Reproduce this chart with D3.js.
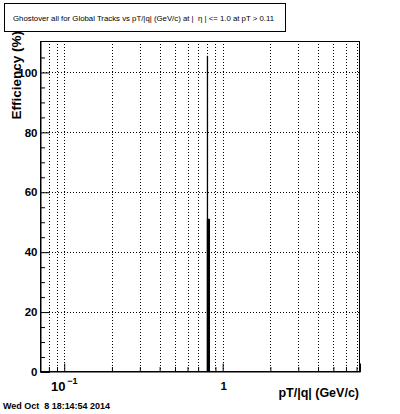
<!DOCTYPE html>
<html>
<head>
<meta charset="utf-8">
<script src="https://cdn.jsdelivr.net/npm/d3@7"></script>
<style>
  body { margin: 0; background: #fff; }
  svg { display: block; font-family: "Liberation Sans", Arial, sans-serif; }
  text { white-space: pre; }
</style>
</head>
<body>
<svg class="chart"></svg>
<script>
var titleText = "Ghostover all for Global Tracks vs pT/|q| (GeV/c) at |  \u03b7 | <= 1.0 at pT > 0.11";
var dateText = "Wed Oct  8 18:14:54 2014";

// histogram bins (edges in GeV/c, efficiency in %)
var binEdges = [0.80, 0.8035, 0.826];
var binValues = [105.5, 51];

var yMajor = [0, 20, 40, 60, 80, 100];
var yMinor = [5, 10, 15, 25, 30, 35, 45, 50, 55, 65, 70, 75, 85, 90, 95, 105];
var xMajor = [0.1, 1];
var xMinor = [0.08, 0.09, 0.2, 0.3, 0.4, 0.5, 0.6, 0.7, 0.8, 0.9, 2, 3, 4, 5, 6, 7];

var svg = d3.select(".chart")
    .attr("width", 400)
    .attr("height", 414);

var x = d3.scaleLog().domain([0.0703, 7.36]).range([40, 360]);
var y = d3.scaleLinear().domain([0, 110.5]).range([372, 41]);

// title box
svg.append("rect")
  .attr("x", 4.5).attr("y", 3.5)
  .attr("width", 281).attr("height", 28)
  .attr("fill", "#fff").attr("stroke", "#000");

svg.append("text")
  .attr("x", 13).attr("y", 20.5)
  .attr("font-size", "7.2px")
  .attr("textLength", 261)
  .attr("lengthAdjust", "spacingAndGlyphs")
  .text(titleText);

// grid
var grid = svg.append("g")
  .attr("stroke", "#000")
  .attr("stroke-width", 1)
  .attr("stroke-dasharray", "1,2");

grid.selectAll(".vgrid").data(xMajor.concat(xMinor))
  .enter().append("line")
    .attr("class", "vgrid")
    .attr("x1", function(d) { return Math.round(x(d)) + 0.5; })
    .attr("x2", function(d) { return Math.round(x(d)) + 0.5; })
    .attr("y1", y.range()[1])
    .attr("y2", y.range()[0]);

grid.selectAll(".hgrid").data(yMajor.slice(1))
  .enter().append("line")
    .attr("class", "hgrid")
    .attr("x1", x.range()[0])
    .attr("x2", x.range()[1])
    .attr("y1", function(d) { return Math.round(y(d)) + 0.5; })
    .attr("y2", function(d) { return Math.round(y(d)) + 0.5; });

// histogram outline
var pts = [[binEdges[0], 0]];
binValues.forEach(function(v, i) {
  pts.push([binEdges[i], v]);
  pts.push([binEdges[i + 1], v]);
});
pts.push([binEdges[binEdges.length - 1], 0]);

svg.append("path")
  .attr("d", d3.line()
    .x(function(d) { return x(d[0]); })
    .y(function(d) { return y(d[1]); })(pts))
  .attr("fill", "none")
  .attr("stroke", "#000")
  .attr("stroke-width", 1);

// the lower bin merges into a solid bar
svg.append("rect")
  .attr("x", x(binEdges[0]) - 0.5)
  .attr("y", y(binValues[1]))
  .attr("width", x(binEdges[2]) - x(binEdges[0]) + 1)
  .attr("height", y(0) - y(binValues[1]))
  .attr("fill", "#000");

// frame
svg.append("rect")
  .attr("x", 40.5).attr("y", 41.5)
  .attr("width", 319).attr("height", 330)
  .attr("fill", "none").attr("stroke", "#000");

// y axis
var yAxisMajor = d3.axisLeft(y).tickValues(yMajor).tickSize(-9).tickPadding(3);
var yAxisMinor = d3.axisLeft(y).tickValues(yMinor).tickSize(-4.5).tickFormat("");

svg.append("g").attr("transform", "translate(40.5,0)").call(yAxisMinor)
  .call(function(g) { g.select(".domain").remove(); });
var gy = svg.append("g").attr("transform", "translate(40.5,0)").call(yAxisMajor);
gy.select(".domain").attr("stroke", "#000");
gy.selectAll("text")
  .attr("font-family", "Liberation Sans, Arial, sans-serif")
  .attr("font-size", "11.5px")
  .attr("font-weight", "bold")
  .attr("fill", "#000");

// x axis
var xAxisMajor = d3.axisBottom(x).tickValues(xMajor).tickSize(-8).tickFormat("");
var xAxisMinor = d3.axisBottom(x).tickValues(xMinor).tickSize(-4.5).tickFormat("");

svg.append("g").attr("transform", "translate(0,371.5)").call(xAxisMinor)
  .call(function(g) { g.select(".domain").remove(); });
var gx = svg.append("g").attr("transform", "translate(0,371.5)").call(xAxisMajor);
gx.select(".domain").attr("stroke", "#000");

// x tick labels (ROOT style)
var xl = svg.append("g")
  .attr("font-weight", "bold")
  .attr("fill", "#000");
xl.append("text")
  .attr("x", x(0.1) - 6).attr("y", 391)
  .attr("text-anchor", "middle")
  .attr("font-size", "13px")
  .text("10");
xl.append("text")
  .attr("x", x(0.1) + 3).attr("y", 384)
  .attr("font-size", "9px")
  .text("\u22121");
xl.append("text")
  .attr("x", x(1) + 1).attr("y", 390)
  .attr("text-anchor", "middle")
  .attr("font-size", "11.5px")
  .text("1");

// axis titles
svg.append("text")
  .attr("x", 359).attr("y", 397)
  .attr("text-anchor", "end")
  .attr("font-size", "12.5px")
  .attr("font-weight", "bold")
  .text("pT/|q| (GeV/c)");

svg.append("text")
  .attr("transform", "translate(21,31) rotate(-90)")
  .attr("text-anchor", "end")
  .attr("font-size", "13.5px")
  .attr("font-weight", "bold")
  .text("Efficiency (%)");

// date stamp
svg.append("text")
  .attr("x", 3).attr("y", 409)
  .attr("font-size", "8.6px")
  .attr("font-weight", "bold")
  .attr("textLength", 107)
  .attr("lengthAdjust", "spacingAndGlyphs")
  .text(dateText);
</script>
</body>
</html>
